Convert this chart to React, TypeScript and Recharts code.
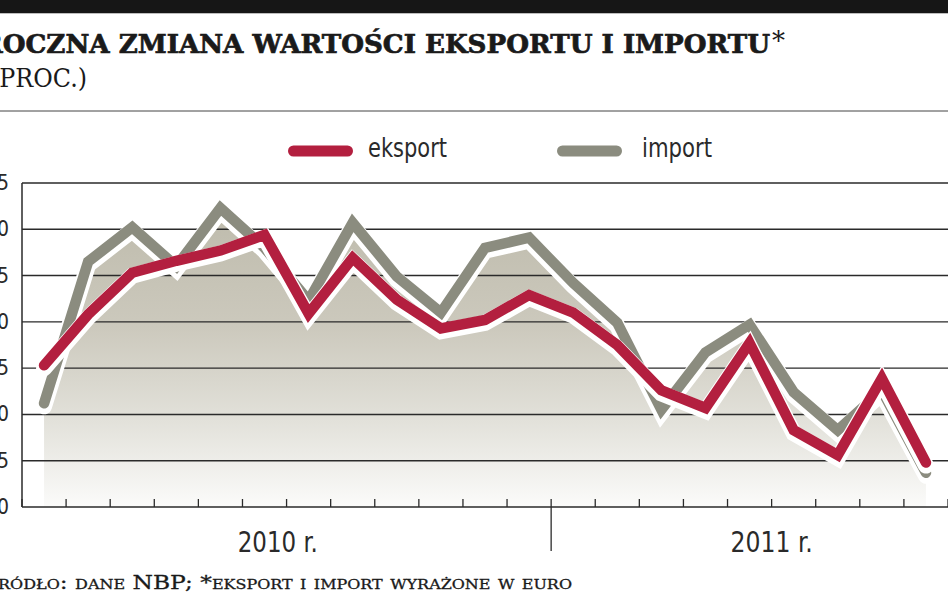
import React from 'react';
import { ComposedChart, Area, Line, XAxis, YAxis, ReferenceLine } from 'recharts';

const categories = [
  'I 2010', 'II 2010', 'III 2010', 'IV 2010', 'V 2010', 'VI 2010', 'VII 2010', 'VIII 2010',
  'IX 2010', 'X 2010', 'XI 2010', 'XII 2010',
  'I 2011', 'II 2011', 'III 2011', 'IV 2011', 'V 2011', 'VI 2011', 'VII 2011', 'VIII 2011', 'IX 2011',
];
const eksport = [15.3, 20.8, 25.3, 26.6, 27.7, 29.4, 20.9, 26.9, 22.4, 19.3, 20.2, 22.9, 21.0, 17.5, 12.6, 10.7, 17.7, 8.3, 5.6, 13.9, 4.8];
const importVals = [11.2, 26.5, 30.2, 26.0, 32.3, 28.0, 22.3, 30.7, 24.9, 21.0, 28.0, 29.1, 24.2, 19.9, 10.5, 16.7, 19.7, 12.4, 8.3, 12.6, 3.7];
const yTicks = [0, 5, 10, 15, 20, 25, 30, 35];
const yearLabels = ['2010 r.', '2011 r.'];
const yearLabelPos = [5.8, 17.0];

const RED = '#b31f3f';
const GRAY = '#8b8c7f';
const INK = '#2a2a2a';
const COND = "'Liberation Sans Narrow', 'DejaVu Sans Condensed', 'Roboto', sans-serif";
const SERIF = "'DejaVu Serif', 'Liberation Serif', serif";

const data = categories.map((c, i) => ({ x: i + 0.5, cat: c, eksport: eksport[i], import: importVals[i] }));
const monthBounds = Array.from({ length: categories.length + 1 }, (_, i) => i);
const yearStart = categories.findIndex((c) => c.endsWith('2011'));

const W = 948;
const H = 593;
const PLOT_BOTTOM = 507;

const MonthTick = (props: any) => {
  const { x, payload } = props;
  const major = payload.value === yearStart;
  return (
    <line x1={x} x2={x} y1={PLOT_BOTTOM - 8} y2={major ? 551 : PLOT_BOTTOM} stroke={INK} strokeWidth={1.3} />
  );
};

const YearTick = (props: any) => {
  const { x, payload, index } = props;
  return (
    <text x={x} y={552} textAnchor="middle" fontFamily={COND} fontSize={29} fill={INK}
      textLength={index === 0 ? 80 : 82} lengthAdjust="spacingAndGlyphs">
      {yearLabels[yearLabelPos.indexOf(payload.value)]}
    </text>
  );
};

const YTick = (props: any) => {
  const { y, payload } = props;
  return (
    <text x={9} y={y} dy={7} textAnchor="end" fontFamily={COND} fontSize={21} fill={INK}>
      {payload.value}
    </text>
  );
};

export default function App() {
  return (
    <div style={{ position: 'absolute', left: 0, top: 0, width: W, height: H, overflow: 'hidden', background: '#fff' }}>
      <div style={{ position: 'absolute', left: 0, top: 0 }}>
        <ComposedChart width={W} height={H} data={data} margin={{ top: 183, right: 0, bottom: 0, left: 0 }}>
          <defs>
            <linearGradient id="impFill" x1="0" y1="0" x2="0" y2="1">
              <stop offset="0" stopColor="#bebbac" />
              <stop offset="0.4" stopColor="#ccc9bd" />
              <stop offset="0.72" stopColor="#e3e2db" />
              <stop offset="1" stopColor="#fbfbfa" />
            </linearGradient>
          </defs>
          <YAxis type="number" domain={[0, 35]} ticks={yTicks} width={22} interval={0}
            axisLine={{ stroke: INK, strokeWidth: 1.5 }} tickLine={false} tick={<YTick />} />
          <XAxis dataKey="x" type="number" domain={[0, categories.length]} ticks={monthBounds} interval={0}
            height={43} axisLine={{ stroke: INK, strokeWidth: 1.5 }} tickLine={false} tick={<MonthTick />} />
          <XAxis xAxisId="years" dataKey="x" type="number" domain={[0, categories.length]} ticks={yearLabelPos}
            interval={0} height={43} axisLine={false} tickLine={false} tick={<YearTick />} />
          <Area dataKey="import" type="linear" stroke="none" fill="url(#impFill)" fillOpacity={1}
            isAnimationActive={false} dot={false} activeDot={false} />
          {yTicks.filter((v) => v > 0).map((v) => (
            <ReferenceLine key={v} y={v} stroke={INK} strokeWidth={1.4} />
          ))}
          <Line dataKey="import" type="linear" stroke="#fff" strokeWidth={16} transform="translate(0,3)"
            isAnimationActive={false} dot={false} activeDot={false} strokeLinejoin="miter" strokeLinecap="round" />
          <Line dataKey="import" type="linear" stroke={GRAY} strokeWidth={10.5}
            isAnimationActive={false} dot={false} activeDot={false} strokeLinejoin="miter" strokeLinecap="round" />
          <Line dataKey="eksport" type="linear" stroke="#fff" strokeWidth={16} transform="translate(0,3)"
            isAnimationActive={false} dot={false} activeDot={false} strokeLinejoin="miter" strokeLinecap="round" />
          <Line dataKey="eksport" type="linear" stroke={RED} strokeWidth={10.5}
            isAnimationActive={false} dot={false} activeDot={false} strokeLinejoin="miter" strokeLinecap="round" />
        </ComposedChart>
      </div>
      <svg width={W} height={H} style={{ position: 'absolute', left: 0, top: 0, pointerEvents: 'none' }}>
        <rect x={0} y={0} width={W} height={13} fill="#161616" />
        <line x1={0} x2={W} y1={13.5} y2={13.5} stroke="#bdbdbd" strokeWidth={1} />
        <text x={-19} y={53} fontFamily={SERIF} fontWeight="bold" fontSize={26} fill="#1a1a1a"
          stroke="#1a1a1a" strokeWidth={0.7}
          textLength={789} lengthAdjust="spacingAndGlyphs">ROCZNA ZMIANA WARTOŚCI EKSPORTU I IMPORTU</text>
        <text x={772} y={50} fontFamily={SERIF} fontSize={26} fill="#1a1a1a">*</text>
        <text x={-10} y={87} fontFamily={SERIF} fontSize={26} fill="#1a1a1a"
          textLength={97} lengthAdjust="spacingAndGlyphs">(PROC.)</text>
        <line x1={0} x2={W} y1={111} y2={111} stroke="#444" strokeWidth={1} />
        <line x1={293.5} x2={347.5} y1={151} y2={151} stroke={RED} strokeWidth={11} strokeLinecap="round" />
        <text x={368} y={157} fontFamily={COND} fontSize={26} fill={INK} textLength={79} lengthAdjust="spacingAndGlyphs">eksport</text>
        <line x1={562.5} x2={616.5} y1={151} y2={151} stroke={GRAY} strokeWidth={11} strokeLinecap="round" />
        <text x={642} y={157} fontFamily={COND} fontSize={26} fill={INK} textLength={70} lengthAdjust="spacingAndGlyphs">import</text>
        <text x={-13} y={589} fontFamily={SERIF} fontSize={19} fill="#1a1a1a" stroke="#1a1a1a" strokeWidth={0.3}
          style={{ fontVariant: 'small-caps' }}
          textLength={585} lengthAdjust="spacingAndGlyphs">źródło: dane NBP; *eksport i import wyrażone w euro</text>
      </svg>
    </div>
  );
}
